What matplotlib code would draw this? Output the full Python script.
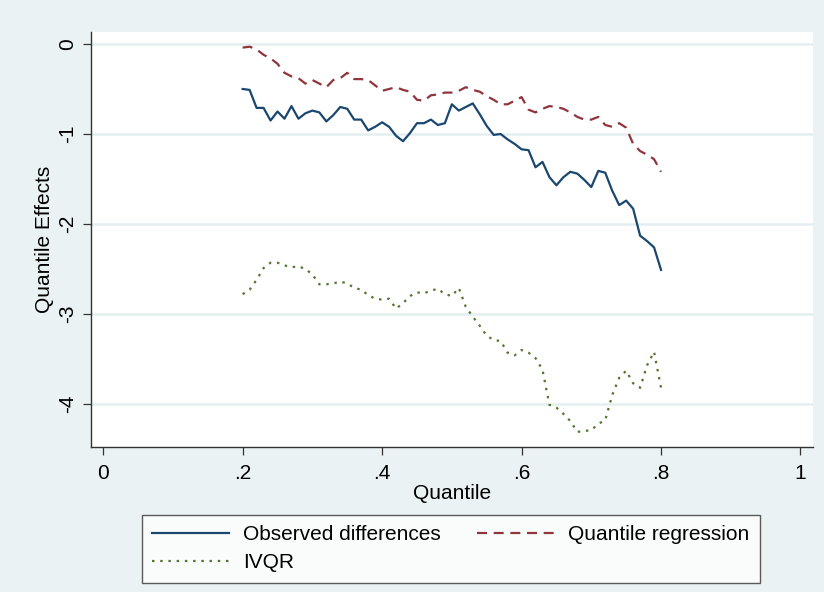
import numpy as np
import matplotlib as mpl
mpl.use('Agg')
import matplotlib.pyplot as plt

plt.rcParams['font.family'] = ['Liberation Sans', 'DejaVu Sans']

# quantiles .20 ... .80
quantile = [round(0.20 + 0.01 * i, 2) for i in range(61)]

observed = [-0.50, -0.51, -0.71, -0.71, -0.85, -0.75, -0.83, -0.69, -0.83, -0.77,
            -0.74, -0.76, -0.86, -0.79, -0.70, -0.72, -0.84, -0.84, -0.96, -0.92,
            -0.87, -0.92, -1.02, -1.08, -0.99, -0.88, -0.88, -0.84, -0.90, -0.88,
            -0.67, -0.74, -0.70, -0.66, -0.78, -0.91, -1.01, -1.00, -1.06, -1.11,
            -1.17, -1.18, -1.37, -1.31, -1.48, -1.57, -1.48, -1.42, -1.44, -1.51,
            -1.59, -1.41, -1.43, -1.63, -1.79, -1.74, -1.83, -2.13, -2.19, -2.26,
            -2.51]

qreg = [-0.04, -0.03, -0.06, -0.12, -0.16, -0.22, -0.32, -0.36, -0.38, -0.44,
        -0.40, -0.44, -0.48, -0.40, -0.38, -0.32, -0.39, -0.39, -0.40, -0.46,
        -0.52, -0.50, -0.48, -0.51, -0.53, -0.62, -0.63, -0.57, -0.56, -0.54,
        -0.54, -0.52, -0.48, -0.51, -0.53, -0.58, -0.62, -0.67, -0.67, -0.63,
        -0.59, -0.73, -0.76, -0.72, -0.69, -0.70, -0.72, -0.76, -0.81, -0.84,
        -0.84, -0.81, -0.90, -0.92, -0.88, -0.93, -1.11, -1.19, -1.23, -1.28,
        -1.42]

ivqr = [-2.78, -2.73, -2.62, -2.49, -2.43, -2.43, -2.46, -2.48, -2.47, -2.50,
        -2.56, -2.67, -2.67, -2.66, -2.64, -2.66, -2.71, -2.73, -2.79, -2.83,
        -2.84, -2.83, -2.94, -2.88, -2.80, -2.76, -2.77, -2.74, -2.72, -2.78,
        -2.80, -2.71, -2.92, -3.03, -3.13, -3.24, -3.29, -3.30, -3.43, -3.46,
        -3.40, -3.43, -3.49, -3.62, -4.01, -4.04, -4.11, -4.19, -4.31, -4.30,
        -4.29, -4.22, -4.18, -3.90, -3.71, -3.63, -3.77, -3.82, -3.57, -3.42,
        -3.82]

xticks = [0, 0.2, 0.4, 0.6, 0.8, 1]
xticklabels = ['0', '.2', '.4', '.6', '.8', '1']
yticks = [0, -1, -2, -3, -4]
yticklabels = ['0', '-1', '-2', '-3', '-4']

bg = '#eaf2f3'
fs = 15

fig = plt.figure(figsize=(8.24, 5.92), dpi=100, facecolor=bg)
ax = fig.add_axes([0.110, 0.2449, 0.8767, 0.7010])
ax.set_facecolor('white')

h1, = ax.plot(quantile, observed, color='#1a476f', lw=1.6, solid_joinstyle='round')
h2, = ax.plot(quantile, qreg, color='#90353b', lw=1.6, linestyle=(0, (4.5, 3)))
h3, = ax.plot(quantile, ivqr, color='#55752f', lw=1.6, linestyle=(0, (1.1, 2.6)))

ax.set_xlim(-0.018, 1.018)
ax.set_ylim(-4.478, 0.133)
ax.set_xticks(xticks)
ax.set_xticklabels(xticklabels, fontsize=fs)
ax.set_yticks(yticks)
ax.set_yticklabels(yticklabels, fontsize=fs, rotation=90, va='center')

ax.grid(axis='y', color='#e4eef0', lw=1.8)
ax.set_axisbelow(True)
for s in ['top', 'right']:
    ax.spines[s].set_visible(False)
for s in ['left', 'bottom']:
    ax.spines[s].set_color('#333333')
    ax.spines[s].set_linewidth(1.0)
ax.tick_params(axis='both', color='#333333', length=6, width=0.9)
ax.tick_params(axis='x', pad=6)
ax.tick_params(axis='y', pad=4)

ax.set_xlabel('Quantile', fontsize=fs, labelpad=1)
ax.set_ylabel('Quantile Effects', fontsize=fs, labelpad=3)

leg = fig.legend([h1, h3, h2], ['Observed differences', 'IVQR', 'Quantile regression'],
                 ncol=2, loc='upper left', bbox_to_anchor=(141.7 / 824, 1 - 515 / 592),
                 fontsize=fs, frameon=True, fancybox=False, edgecolor='#333333',
                 handlelength=3.7, handletextpad=0.66, columnspacing=1.75,
                 labelspacing=0.42, borderpad=0.5, borderaxespad=0)
leg.get_frame().set_linewidth(1.0)

fig.savefig('out.png', dpi=100, facecolor=bg)
